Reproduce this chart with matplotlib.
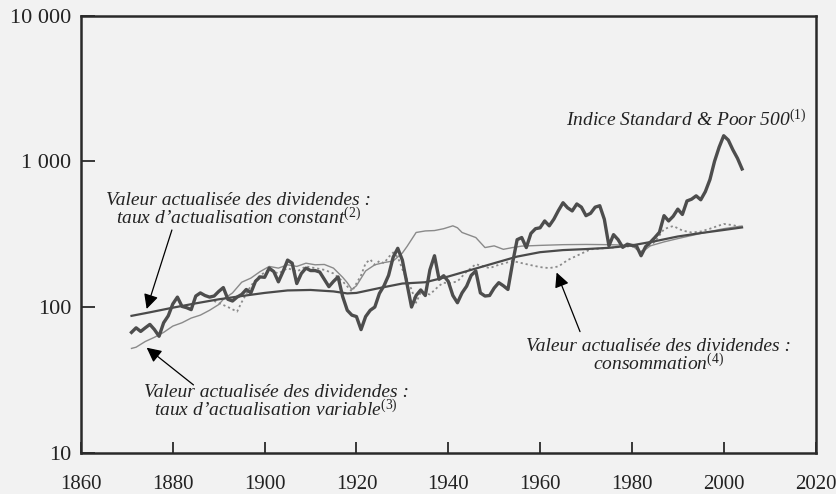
import numpy as np
import matplotlib
matplotlib.use('Agg')
import matplotlib.pyplot as plt

# S&P 500 real index (thick line)
sp_years = [1871, 1872, 1873, 1874, 1875, 1876, 1877, 1878, 1879, 1880,
            1881, 1882, 1883, 1884, 1885, 1886, 1887, 1888, 1889, 1890,
            1891, 1892, 1893, 1894, 1895, 1896, 1897, 1898, 1899, 1900,
            1901, 1902, 1903, 1904, 1905, 1906, 1907, 1908, 1909, 1910,
            1911, 1912, 1913, 1914, 1915, 1916, 1917, 1918, 1919, 1920,
            1921, 1922, 1923, 1924, 1925, 1926, 1927, 1928, 1929, 1930,
            1931, 1932, 1933, 1934, 1935, 1936, 1937, 1938, 1939, 1940,
            1941, 1942, 1943, 1944, 1945, 1946, 1947, 1948, 1949, 1950,
            1951, 1952, 1953, 1954, 1955, 1956, 1957, 1958, 1959, 1960,
            1961, 1962, 1963, 1964, 1965, 1966, 1967, 1968, 1969, 1970,
            1971, 1972, 1973, 1974, 1975, 1976, 1977, 1978, 1979, 1980,
            1981, 1982, 1983, 1984, 1985, 1986, 1987, 1988, 1989, 1990,
            1991, 1992, 1993, 1994, 1995, 1996, 1997, 1998, 1999, 2000,
            2001, 2002, 2003, 2004]
sp_values = [67, 72, 68, 72, 76, 70, 63, 78, 87, 105,
             117, 101, 99, 96, 119, 125, 120, 117, 119, 128,
             136, 113, 110, 117, 122, 132, 125, 150, 161, 160,
             185, 175, 149, 175, 210, 200, 145, 170, 185, 178,
             178, 174, 155, 138, 150, 161, 118, 95, 88, 86,
             70, 86, 95, 100, 124, 140, 165, 220, 253, 210,
             145, 100, 120, 131, 120, 180, 225, 155, 164, 150,
             120, 107, 125, 139, 165, 177, 125, 119, 120, 135,
             147, 140, 132, 200, 290, 300, 256, 320, 345, 350,
             390, 361, 401, 460, 520, 480, 457, 510, 485, 424,
             440, 485, 496, 400, 263, 314, 290, 257, 270, 265,
             263, 225, 260, 278, 300, 326, 424, 390, 420, 470,
             432, 535, 550, 580, 545, 620, 750, 1000, 1250, 1500,
             1400, 1200, 1050, 887]

# present value of dividends, variable discount rate (thin line)
var_years = [1871, 1872, 1874, 1876, 1878, 1880, 1882, 1884, 1886, 1888,
             1890, 1891, 1893, 1895, 1897, 1899, 1901, 1903, 1905, 1907,
             1909, 1911, 1913, 1915, 1917, 1918, 1919, 1920, 1922, 1924,
             1926, 1928, 1930, 1931, 1933, 1935, 1937, 1939, 1941, 1942,
             1943, 1946, 1948, 1950, 1952, 1954, 1956, 1960, 1965, 1970,
             1975, 1980, 1982, 1984, 1987, 1990, 1995, 2000, 2004]
var_values = [52, 53, 58, 62, 67, 74, 78, 84, 88, 95,
              104, 113, 125, 148, 158, 175, 190, 185, 195, 190,
              200, 195, 196, 185, 160, 147, 132, 140, 177, 195,
              202, 207, 235, 260, 325, 333, 335, 345, 361, 350,
              325, 300, 256, 263, 249, 256, 262, 265, 268, 269,
              268, 265, 236, 263, 280, 295, 320, 345, 360]

# present value of dividends, constant discount rate (smooth line)
cst_years = [1871, 1875, 1880, 1885, 1890, 1895, 1900, 1905, 1910, 1915,
             1918, 1920, 1925, 1930, 1935, 1940, 1945, 1950, 1955, 1960,
             1965, 1970, 1975, 1980, 1985, 1990, 1995, 2000, 2004]
cst_values = [87, 92, 99, 106, 113, 119, 125, 130, 131, 128,
              124, 125, 135, 145, 148, 162, 180, 200, 222, 238,
              246, 250, 255, 265, 283, 305, 322, 338, 352]

# present value of dividends, consumption (dotted line)
cons_years = [1889, 1892, 1894, 1895, 1897, 1899, 1901, 1903, 1905, 1907,
              1909, 1911, 1913, 1915, 1917, 1919, 1921, 1922, 1923, 1924,
              1925, 1926, 1927, 1928, 1929, 1930, 1932, 1933, 1934, 1936,
              1938, 1939, 1940, 1942, 1944, 1946, 1949, 1951, 1954, 1957,
              1960, 1962, 1964, 1966, 1968, 1971, 1975, 1980, 1982, 1985,
              1987, 1989, 1991, 1993, 1995, 1997, 2000, 2002, 2004]
cons_values = [110, 100, 93, 108, 140, 165, 180, 170, 185, 175,
               190, 185, 180, 170, 150, 128, 165, 200, 212, 195,
               207, 200, 220, 237, 220, 182, 132, 107, 126, 122,
               140, 147, 145, 150, 175, 197, 185, 195, 207, 197,
               188, 185, 190, 210, 225, 249, 255, 262, 240, 280,
               343, 360, 335, 325, 330, 345, 372, 365, 352]

y_ticks = [10, 100, 1000, 10000]
y_labels = ['10', '100', '1 000', '10 000']
x_ticks = list(range(1860, 2021, 20))

bg = '#f2f2f2'
plt.rcParams['font.family'] = ['Liberation Serif', 'DejaVu Serif']
plt.rcParams['mathtext.fontset'] = 'custom'
plt.rcParams['mathtext.rm'] = 'Liberation Serif'
plt.rcParams['mathtext.it'] = 'Liberation Serif:italic'

fig = plt.figure(figsize=(8.36, 4.94), dpi=100, facecolor=bg)
ax = fig.add_axes([0.0969, 0.0836, 0.9755 - 0.0969, 0.9682 - 0.0836])
ax.set_facecolor(bg)

ax.plot(var_years, var_values, color='#8a8a8a', lw=1.0, zorder=2)
ax.plot(cons_years, cons_values, color='#8a8a8a', lw=1.3, ls=(0, (1.2, 1.6)), zorder=2)
ax.plot(cst_years, cst_values, color='#4a4a4a', lw=1.6, zorder=3)
ax.plot(sp_years, sp_values, color='#4d4d4d', lw=2.4, zorder=4)

ax.set_yscale('log')
ax.set_ylim(10, 10000)
ax.set_xlim(1860, 2020)
ax.set_yticks(y_ticks)
ax.set_yticklabels(y_labels)
ax.minorticks_off()
ax.set_xticks(x_ticks)
ax.set_xticklabels([str(x) for x in x_ticks])

for s in ax.spines.values():
    s.set_linewidth(1.8)
    s.set_color('#2a2a2a')
ax.tick_params(axis='x', direction='in', length=8, width=1.3, color='#2a2a2a',
               pad=16, labelsize=15, labelcolor='#222222')
ax.tick_params(axis='y', direction='in', length=10, width=1.3, color='#2a2a2a',
               pad=7, labelsize=16, labelcolor='#222222')

tkw = dict(fontsize=14, style='italic', color='#222222', ha='center', va='center',
           multialignment='center', linespacing=0.9)
ax.text(1991.9, 1918, r'Indice Standard & Poor 500$^{\mathit{(1)}}$', **tkw)
ax.text(1894.2, 460, 'Valeur actualisée des dividendes :\n'
        r'taux d’actualisation constant$^{\mathit{(2)}}$', **tkw)
ax.text(1902.5, 22.3, 'Valeur actualisée des dividendes :\n'
        r'taux d’actualisation variable$^{\mathit{(3)}}$', **tkw)
ax.text(1985.8, 46.1, 'Valeur actualisée des dividendes :\n'
        r'consommation$^{\mathit{(4)}}$', **tkw)

akw = dict(arrowstyle='-|>', color='black', lw=0.9, mutation_scale=22, shrinkA=0, shrinkB=0)
ax.annotate('', xy=(1874.3, 97), xytext=(1879.8, 338), arrowprops=akw)
ax.annotate('', xy=(1874.3, 52.6), xytext=(1884.5, 29.2), arrowprops=akw)
ax.annotate('', xy=(1963.6, 172.6), xytext=(1968.7, 67.8), arrowprops=akw)

fig.savefig('out.png', dpi=100, facecolor=bg)
